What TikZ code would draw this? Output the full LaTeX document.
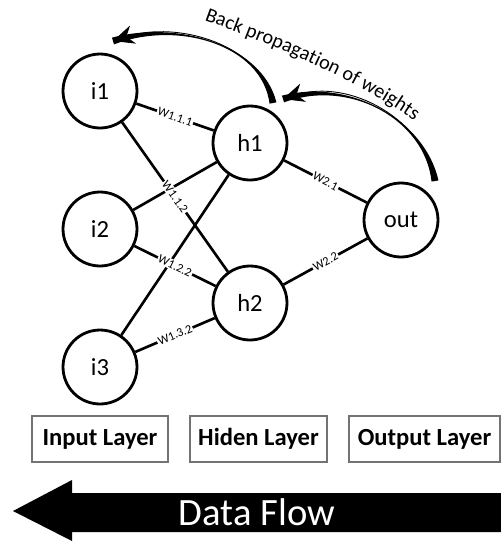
\documentclass[tikz,border=0pt]{standalone}
\usepackage{fontspec}
\setmainfont{Carlito}
\usetikzlibrary{arrows.meta, calc, decorations.text}

\begin{document}
\begin{tikzpicture}[
    x=0.02cm, y=-0.02cm,
    neurona/.style={draw, circle, line width=1.6pt, minimum size=14.8mm,
                    inner sep=0pt, font=\fontsize{14}{16}\selectfont},
    conexion/.style={line width=1.5pt},
    peso/.style={fill=white, inner sep=0.6pt, sloped, midway,
                 font=\fontsize{7}{8}\selectfont},
    capa/.style={draw=black!55, line width=0.6pt, minimum height=9.2mm,
                 inner sep=0pt, font=\fontsize{14}{16}\selectfont\bfseries},
    punta/.style={-{Stealth[length=4.2mm, width=3.8mm, inset=1.4mm]}, line width=0.5pt}
  ]
  \useasboundingbox (0,0) rectangle (501,542);

  % --- Neuronas ---
  \node[neurona] (i1)  at (100,91)  {i1};
  \node[neurona] (i2)  at (100,229) {i2};
  \node[neurona] (i3)  at (100,367) {i3};
  \node[neurona] (h1)  at (250,143) {h1};
  \node[neurona] (h2)  at (250,303) {h2};
  \node[neurona] (out) at (401,220) {out};

  % --- Conexiones sin etiqueta ---
  \draw[conexion] (i2) -- (h1);
  \draw[conexion] (i3) -- (h1);

  % --- Conexiones con peso ---
  \draw[conexion] (i1) -- node[peso] {W1.1.1} (h1);
  \draw[conexion] (i1) -- node[peso] {W1.1.2} (h2);
  \draw[conexion] (i2) -- node[peso] {W1.2.2} (h2);
  \draw[conexion] (i3) -- node[peso] {W1.3.2} (h2);
  \draw[conexion] (h1) -- node[peso] {W2.1} (out);
  \draw[conexion] (h2) -- node[peso] {W2.2} (out);

  % --- Retropropagacion ---
  \coordinate (r1s) at (273,103);
  \coordinate (r1a) at (262,45);
  \coordinate (r1b) at (178,20);
  \coordinate (r1t) at (113,41);
  \fill ($(r1s)!0.7mm!90:(r1a)$) .. controls (r1a) and (r1b) .. ($(r1t)!0.7mm!-90:(r1b)$)
        -- ($(r1t)!0.7mm!90:(r1b)$) .. controls (r1b) and (r1a) .. ($(r1s)!0.7mm!-90:(r1a)$)
        -- cycle;
  \draw[punta] (r1s) .. controls (r1a) and (r1b) .. (r1t);

  \coordinate (r2s) at (435,181);
  \coordinate (r2a) at (425,120);
  \coordinate (r2b) at (350,78);
  \coordinate (r2t) at (283,99);
  \fill ($(r2s)!0.7mm!90:(r2a)$) .. controls (r2a) and (r2b) .. ($(r2t)!0.7mm!-90:(r2b)$)
        -- ($(r2t)!0.7mm!90:(r2b)$) .. controls (r2b) and (r2a) .. ($(r2s)!0.7mm!-90:(r2a)$)
        -- cycle;
  \draw[punta] (r2s) .. controls (r2a) and (r2b) .. (r2t);

  \path[decorate, decoration={text along path, text align=center,
        text={|\fontsize{11.5}{13}\selectfont|Back propagation of weights}}]
        (207,21) .. controls (270,44) and (350,76) .. (412,119);

  % --- Capas ---
  \node[capa, minimum width=27.2mm] (entrada) at (100,439)   {Input Layer};
  \node[capa, minimum width=27.4mm] (oculta)  at (258.5,439) {Hiden Layer};
  \node[capa, minimum width=30.2mm] (salida)  at (424.5,439) {Output Layer};

  % --- Flujo de datos ---
  \fill (501,493) -- (72,493) -- (72,480) -- (13,511) -- (72,541)
        -- (72,532) -- (501,532) -- cycle;
  \node[text=white, font=\fontsize{22}{26}\selectfont] (flujo) at (257,512) {Data Flow};
\end{tikzpicture}
\end{document}
